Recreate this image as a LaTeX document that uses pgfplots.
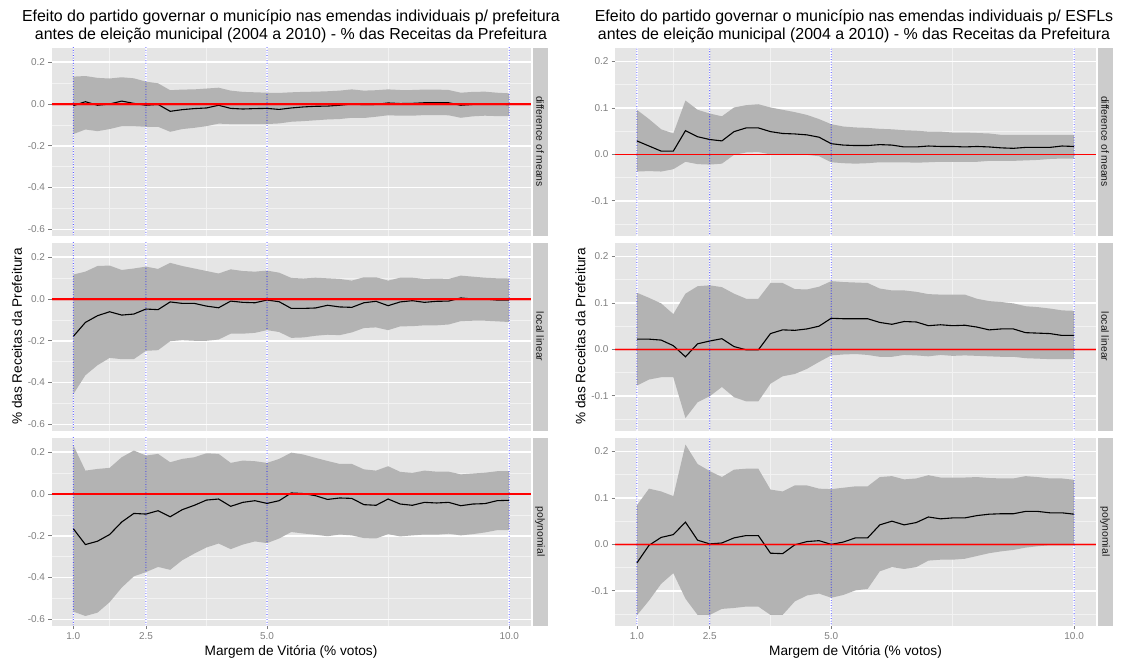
\documentclass[border=0pt]{standalone}
\usepackage{pgfplots}
\pgfplotsset{compat=1.18}
\usepackage{pgfplotstable}
\usepgfplotslibrary{fillbetween}
\usepackage{fontspec}
\setmainfont{Liberation Sans}

\definecolor{panelbg}{HTML}{E5E5E5}
\definecolor{band}{HTML}{B3B3B3}
\definecolor{stripbg}{HTML}{CCCCCC}
\definecolor{tickgray}{HTML}{7F7F7F}
\definecolor{minorline}{HTML}{F2F2F2}
\definecolor{striptext}{HTML}{1A1A1A}
\definecolor{refblue}{RGB}{30,30,255}

% prefeitura: difference of means
\pgfplotstableread{
x est lo hi
1.00 -0.008 -0.144 0.131
1.25 0.011 -0.122 0.134
1.50 -0.006 -0.130 0.125
1.75 0.000 -0.120 0.122
2.00 0.014 -0.106 0.128
2.25 0.003 -0.106 0.123
2.50 -0.006 -0.109 0.107
2.75 -0.002 -0.109 0.099
3.00 -0.035 -0.133 0.066
3.25 -0.027 -0.120 0.069
3.50 -0.022 -0.114 0.070
3.75 -0.019 -0.106 0.074
4.00 -0.006 -0.094 0.078
4.25 -0.021 -0.096 0.064
4.50 -0.024 -0.096 0.058
4.75 -0.022 -0.096 0.056
5.00 -0.021 -0.096 0.054
5.25 -0.026 -0.093 0.053
5.50 -0.019 -0.085 0.056
5.75 -0.014 -0.082 0.058
6.00 -0.011 -0.078 0.059
6.25 -0.010 -0.074 0.061
6.50 -0.006 -0.072 0.064
6.75 0.000 -0.066 0.070
7.00 -0.003 -0.067 0.064
7.25 -0.002 -0.061 0.066
7.50 0.005 -0.054 0.070
7.75 0.002 -0.056 0.067
8.00 0.003 -0.056 0.067
8.25 0.006 -0.053 0.069
8.50 0.006 -0.053 0.069
8.75 0.006 -0.054 0.067
9.00 -0.006 -0.066 0.054
9.25 -0.002 -0.059 0.058
9.50 0.000 -0.056 0.059
9.75 0.000 -0.058 0.054
10.00 -0.003 -0.058 0.051
}\Ldm

% prefeitura: local linear
\pgfplotstableread{
x est lo hi
1.00 -0.179 -0.456 0.117
1.25 -0.112 -0.365 0.131
1.50 -0.080 -0.317 0.158
1.75 -0.061 -0.282 0.160
2.00 -0.077 -0.288 0.139
2.25 -0.072 -0.288 0.146
2.50 -0.048 -0.248 0.155
2.75 -0.051 -0.245 0.144
3.00 -0.014 -0.202 0.173
3.25 -0.021 -0.197 0.158
3.50 -0.021 -0.200 0.146
3.75 -0.034 -0.200 0.134
4.00 -0.042 -0.194 0.122
4.25 -0.010 -0.166 0.142
4.50 -0.016 -0.166 0.134
4.75 -0.018 -0.162 0.131
5.00 -0.005 -0.149 0.136
5.25 -0.013 -0.158 0.126
5.50 -0.045 -0.186 0.101
5.75 -0.045 -0.184 0.098
6.00 -0.043 -0.176 0.102
6.25 -0.030 -0.171 0.099
6.50 -0.038 -0.173 0.096
6.75 -0.040 -0.160 0.088
7.00 -0.018 -0.139 0.104
7.25 -0.011 -0.136 0.104
7.50 -0.032 -0.149 0.088
7.75 -0.014 -0.131 0.102
8.00 -0.008 -0.130 0.102
8.25 -0.016 -0.126 0.096
8.50 -0.011 -0.126 0.098
8.75 -0.010 -0.122 0.096
9.00 0.005 -0.106 0.112
9.25 0.000 -0.104 0.107
9.50 0.000 -0.104 0.102
9.75 -0.005 -0.107 0.099
10.00 -0.005 -0.110 0.098
}\Lll

% prefeitura: polynomial
\pgfplotstableread{
x est lo hi
1.00 -0.166 -0.563 0.234
1.25 -0.242 -0.584 0.112
1.50 -0.226 -0.568 0.120
1.75 -0.194 -0.518 0.125
2.00 -0.134 -0.448 0.176
2.25 -0.093 -0.394 0.208
2.50 -0.096 -0.374 0.184
2.75 -0.080 -0.349 0.192
3.00 -0.109 -0.363 0.152
3.25 -0.075 -0.317 0.168
3.50 -0.054 -0.285 0.176
3.75 -0.029 -0.256 0.195
4.00 -0.024 -0.237 0.192
4.25 -0.059 -0.264 0.149
4.50 -0.040 -0.242 0.160
4.75 -0.032 -0.227 0.157
5.00 -0.045 -0.235 0.149
5.25 -0.032 -0.213 0.168
5.50 0.005 -0.182 0.198
5.75 0.002 -0.189 0.189
6.00 -0.008 -0.195 0.173
6.25 -0.026 -0.202 0.158
6.50 -0.019 -0.194 0.144
6.75 -0.021 -0.198 0.144
7.00 -0.051 -0.211 0.118
7.25 -0.054 -0.213 0.112
7.50 -0.024 -0.192 0.133
7.75 -0.048 -0.203 0.106
8.00 -0.054 -0.198 0.101
8.25 -0.040 -0.194 0.112
8.50 -0.043 -0.195 0.107
8.75 -0.040 -0.190 0.107
9.00 -0.056 -0.198 0.094
9.25 -0.048 -0.192 0.098
9.50 -0.046 -0.184 0.102
9.75 -0.032 -0.173 0.109
10.00 -0.030 -0.173 0.109
}\Lpoly

% ESFLs: difference of means
\pgfplotstableread{
x est lo hi
1.00 0.029 -0.037 0.096
1.25 0.018 -0.036 0.076
1.50 0.007 -0.037 0.054
1.75 0.007 -0.032 0.045
2.00 0.051 -0.016 0.116
2.25 0.038 -0.021 0.096
2.50 0.032 -0.022 0.088
2.75 0.029 -0.020 0.082
3.00 0.049 -0.001 0.101
3.25 0.057 0.004 0.106
3.50 0.057 0.005 0.108
3.75 0.049 0.000 0.101
4.00 0.045 -0.001 0.096
4.25 0.044 -0.001 0.091
4.50 0.042 -0.001 0.085
4.75 0.037 -0.004 0.076
5.00 0.023 -0.017 0.065
5.25 0.020 -0.019 0.060
5.50 0.019 -0.020 0.058
5.75 0.019 -0.019 0.057
6.00 0.021 -0.017 0.055
6.25 0.020 -0.017 0.054
6.50 0.016 -0.017 0.052
6.75 0.016 -0.018 0.051
7.00 0.018 -0.017 0.049
7.25 0.017 -0.016 0.049
7.50 0.017 -0.016 0.047
7.75 0.016 -0.016 0.047
8.00 0.017 -0.016 0.046
8.25 0.016 -0.014 0.045
8.50 0.014 -0.014 0.042
8.75 0.013 -0.014 0.042
9.00 0.015 -0.013 0.042
9.25 0.015 -0.012 0.042
9.50 0.015 -0.010 0.042
9.75 0.018 -0.009 0.042
10.00 0.017 -0.009 0.042
}\Rdm

% ESFLs: local linear
\pgfplotstableread{
x est lo hi
1.00 0.022 -0.078 0.122
1.25 0.022 -0.065 0.111
1.50 0.020 -0.060 0.099
1.75 0.008 -0.060 0.076
2.00 -0.016 -0.148 0.120
2.25 0.012 -0.114 0.136
2.50 0.018 -0.101 0.138
2.75 0.023 -0.081 0.134
3.00 0.006 -0.103 0.120
3.25 -0.001 -0.112 0.109
3.50 -0.001 -0.112 0.109
3.75 0.034 -0.074 0.143
4.00 0.042 -0.058 0.143
4.25 0.041 -0.053 0.130
4.50 0.044 -0.042 0.129
4.75 0.050 -0.027 0.135
5.00 0.067 -0.013 0.147
5.25 0.066 -0.011 0.145
5.50 0.066 -0.010 0.144
5.75 0.066 -0.012 0.143
6.00 0.058 -0.016 0.131
6.25 0.054 -0.016 0.127
6.50 0.060 -0.012 0.127
6.75 0.059 -0.013 0.124
7.00 0.051 -0.015 0.119
7.25 0.053 -0.012 0.118
7.50 0.051 -0.014 0.118
7.75 0.052 -0.013 0.118
8.00 0.048 -0.014 0.109
8.25 0.042 -0.015 0.104
8.50 0.044 -0.016 0.102
8.75 0.044 -0.016 0.099
9.00 0.036 -0.019 0.093
9.25 0.035 -0.020 0.091
9.50 0.034 -0.021 0.088
9.75 0.030 -0.021 0.084
10.00 0.030 -0.021 0.083
}\Rll

% ESFLs: polynomial
\pgfplotstableread{
x est lo hi
1.00 -0.040 -0.153 0.084
1.25 -0.002 -0.121 0.120
1.50 0.015 -0.085 0.114
1.75 0.021 -0.062 0.104
2.00 0.048 -0.117 0.215
2.25 0.009 -0.152 0.173
2.50 0.001 -0.152 0.158
2.75 0.003 -0.139 0.145
3.00 0.014 -0.137 0.161
3.25 0.019 -0.134 0.163
3.50 0.019 -0.134 0.163
3.75 -0.019 -0.152 0.118
4.00 -0.020 -0.152 0.114
4.25 -0.001 -0.123 0.127
4.50 0.006 -0.110 0.127
4.75 0.008 -0.106 0.120
5.00 0.000 -0.115 0.119
5.25 0.005 -0.109 0.122
5.50 0.014 -0.099 0.125
5.75 0.014 -0.096 0.125
6.00 0.042 -0.058 0.145
6.25 0.050 -0.049 0.147
6.50 0.042 -0.053 0.140
6.75 0.047 -0.049 0.142
7.00 0.059 -0.035 0.149
7.25 0.055 -0.033 0.144
7.50 0.057 -0.033 0.144
7.75 0.057 -0.031 0.144
8.00 0.062 -0.025 0.145
8.25 0.065 -0.019 0.143
8.50 0.066 -0.015 0.142
8.75 0.066 -0.012 0.142
9.00 0.071 -0.007 0.147
9.25 0.071 -0.004 0.145
9.50 0.068 -0.002 0.142
9.75 0.068 -0.002 0.142
10.00 0.065 -0.002 0.139
}\Rpoly

\pgfplotsset{
  facet/.style={
    scale only axis, height=188bp, anchor=north west,
    xmin=0.55, xmax=10.45,
    axis background/.style={fill=panelbg},
    axis line style={draw=none},
    xtick={1,2.5,5,10}, minor xtick={1.75,3.75,7.5},
    grid=both,
    major grid style={white, line width=1.5bp},
    minor grid style={minorline, line width=0.7bp},
    tick pos=left, tick align=outside,
    major tick length=3.5bp, minor tick length=0bp,
    every tick/.style={tickgray, line width=0.6bp},
    /pgf/number format/assume math mode=true,
    /pgf/number format/fixed,
    /pgf/number format/fixed zerofill,
    /pgf/number format/precision=1,
    ticklabel style={font=\fontsize{10}{11}\selectfont, text=tickgray},
    yticklabel style={xshift=0.5bp},
  },
  inner/.style={xticklabels={}, every x tick/.append style={draw=none}},
  leftY/.style={ymin=-0.63, ymax=0.27, ytick={-0.6,-0.4,-0.2,0,0.2},
    minor ytick={-0.5,-0.3,-0.1,0.1}},
  rightY/.style={ymin=-0.175, ymax=0.23, ytick={-0.1,0,0.1,0.2},
    minor ytick={-0.15,-0.05,0.05,0.15}},
  refline/.style={refblue, opacity=0.85, line width=1.1bp, line cap=round,
    dash pattern=on 0bp off 2.6bp},
}

% band, estimate, zero line and reference margins of one facet
\newcommand\facet[2]{%
  \addplot[name path=up, draw=none, forget plot] table[x=x, y=hi] {#1};
  \addplot[name path=dn, draw=none, forget plot] table[x=x, y=lo] {#1};
  \addplot[band, draw=none] fill between[of=up and dn];
  \addplot[black, line width=1.1bp] table[x=x, y=est] {#1};
  #2
  \addplot[red, line width=1.1bp] coordinates {(0.55,0) (10.45,0)};
  \addplot[refline] coordinates {(1,-1) (1,1)};
  \addplot[refline] coordinates {(2.5,-1) (2.5,1)};
  \addplot[refline] coordinates {(5,-1) (5,1)};
  \addplot[refline] coordinates {(10,-1) (10,1)};
}
\newcommand\halo{\addplot[red, opacity=0.25, line width=3bp] coordinates {(0.55,0) (10.45,0)};}

\newcommand\strip[4]{% x, top, bottom, label
  \fill[stripbg] ({#1*1bp},{-#2*1bp}) rectangle ({(#1+15)*1bp},{-#3*1bp});
  \node[rotate=-90, font=\fontsize{10.4}{11}\selectfont, text=striptext, inner sep=0pt]
    at ({(#1+7.5)*1bp},{-(#2+#3)/2*1bp}) {#4};
}

\begin{document}
\begin{tikzpicture}

% left column: prefeitura
\begin{axis}[facet, leftY, inner, width=479.5bp, at={(51.5bp,-47.6bp)}]
\facet{\Ldm}{\halo}
\end{axis}
\begin{axis}[facet, leftY, inner, width=479.5bp, at={(51.5bp,-242.6bp)}]
\facet{\Lll}{\halo}
\end{axis}
\begin{axis}[facet, leftY, width=479.5bp, at={(51.5bp,-437.6bp)}]
\facet{\Lpoly}{}
\end{axis}

% right column: ESFLs
\begin{axis}[facet, rightY, inner, width=481bp, at={(615bp,-47.6bp)}]
\facet{\Rdm}{}
\end{axis}
\begin{axis}[facet, rightY, inner, width=481bp, at={(615bp,-242.6bp)}]
\facet{\Rll}{\halo}
\end{axis}
\begin{axis}[facet, rightY, width=481bp, at={(615bp,-437.6bp)}]
\facet{\Rpoly}{\halo}
\end{axis}

\strip{532.5}{47.6}{235.5}{difference of means}
\strip{532.5}{242.6}{430.5}{local linear}
\strip{532.5}{437.6}{625.5}{polynomial}
\strip{1097.5}{47.6}{235.5}{difference of means}
\strip{1097.5}{242.6}{430.5}{local linear}
\strip{1097.5}{437.6}{625.5}{polynomial}

\node[align=center, font=\fontsize{16}{18}\selectfont] at (291bp,-26.5bp)
  {Efeito do partido governar o município nas emendas individuais p/ prefeitura\\
   antes de eleição municipal (2004 a 2010) - \% das Receitas da Prefeitura};
\node[align=center, font=\fontsize{16}{18}\selectfont] at (854bp,-26.5bp)
  {Efeito do partido governar o município nas emendas individuais p/ ESFLs\\
   antes de eleição municipal (2004 a 2010) - \% das Receitas da Prefeitura};

\node[rotate=90, font=\fontsize{13.7}{15}\selectfont] at (17bp,-336.5bp) {\% das Receitas da Prefeitura};
\node[rotate=90, font=\fontsize{13.7}{15}\selectfont] at (580.5bp,-336.5bp) {\% das Receitas da Prefeitura};
\node[font=\fontsize{13.7}{15}\selectfont] at (291bp,-652bp) {Margem de Vitória (\% votos)};
\node[font=\fontsize{13.7}{15}\selectfont] at (855.5bp,-652bp) {Margem de Vitória (\% votos)};

\pgfresetboundingbox
\path[use as bounding box] (0,0) rectangle (1125bp,-661bp);
\end{tikzpicture}
\end{document}
